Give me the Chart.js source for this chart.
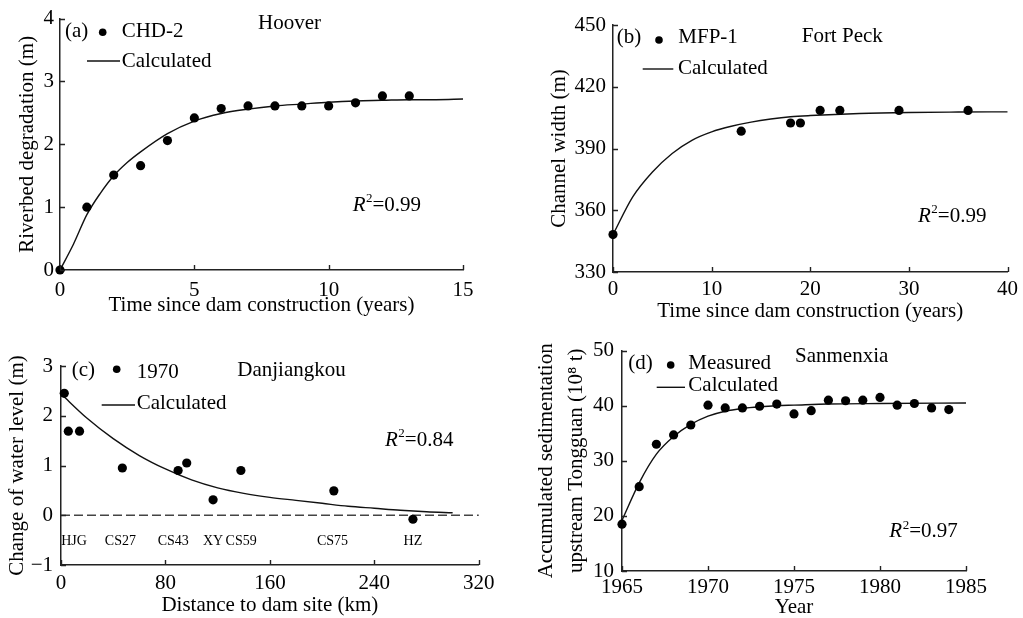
<!DOCTYPE html>
<html>
<head>
<meta charset="utf-8">
<script src="https://cdn.jsdelivr.net/npm/chart.js@4.4.1/dist/chart.umd.min.js"></script>
<style>
  html, body { margin: 0; padding: 0; background: #fff; overflow: hidden; }
  #wrap { position: relative; width: 1023px; height: 618px; }
  canvas { position: absolute; }
</style>
</head>
<body>
<div id="wrap">
  <canvas id="panelA" width="500" height="318" style="left:0px;top:0px"></canvas>
  <canvas id="panelB" width="513" height="330" style="left:510px;top:0px"></canvas>
  <canvas id="panelC" width="500" height="300" style="left:0px;top:318px"></canvas>
  <canvas id="panelD" width="513" height="300" style="left:510px;top:330px"></canvas>
</div>
<script>
// (a) Hoover - riverbed degradation
const hooverYears = [0, 1, 2, 3, 4, 5, 6, 7, 8, 9, 10, 11, 12, 13];
const hooverDeg = [0, 1.0, 1.51, 1.66, 2.06, 2.42, 2.57, 2.61, 2.61, 2.61, 2.61, 2.66, 2.77, 2.77];
const hooverCalcYears = [0, 0.5, 1, 1.5, 2, 2.5, 3, 4, 5, 6, 7, 8, 9, 10, 11, 12, 13, 14, 15];
const hooverCalc = [0, 0.41, 0.88, 1.22, 1.5, 1.71, 1.88, 2.17, 2.37, 2.49, 2.56, 2.61, 2.64, 2.67, 2.69, 2.7, 2.71, 2.71, 2.72];

// (b) Fort Peck - channel width
const peckYears = [0, 13, 18, 19, 21, 23, 29, 36];
const peckWidth = [348.2, 398.4, 402.4, 402.4, 408.5, 408.5, 408.5, 408.5];
const peckCalcYears = [0, 2, 4, 6, 8, 10, 12, 14, 16, 18, 20, 25, 30, 35, 40];
const peckCalc = [348.2, 366.5, 378.6, 387.6, 394, 398.1, 400.8, 402.8, 404.3, 405.4, 406, 407, 407.5, 407.7, 407.8];

// (c) Danjiangkou - change of water level, 1970
const danjKm = [2.5, 5.6, 14.2, 47, 89.7, 96.3, 116.5, 137.8, 209, 269.6];
const danjLevel = [2.45, 1.69, 1.69, 0.95, 0.9, 1.05, 0.31, 0.9, 0.49, -0.08];
const danjCalcKm = [0, 20, 40, 60, 80, 100, 120, 140, 160, 180, 200, 220, 240, 260, 280, 300];
const danjCalc = [2.44, 1.95, 1.54, 1.2, 0.93, 0.71, 0.55, 0.44, 0.36, 0.3, 0.24, 0.18, 0.14, 0.1, 0.07, 0.05];
const zeroKm = [0, 320];
const zeroLevel = [0, 0];
const stationNames = ['HJG', 'CS27', 'CS43', 'XY', 'CS59', 'CS75', 'HZ'];
const stationKm = [10, 45.5, 86, 116.5, 138, 208, 269.6];
const stationLevel = -0.53;

// (d) Sanmenxia - accumulated sedimentation upstream Tongguan
const sanYears = [1965, 1966, 1967, 1968, 1969, 1970, 1971, 1972, 1973, 1974, 1975, 1976, 1977, 1978, 1979, 1980, 1981, 1982, 1983, 1984];
const sanSed = [18.5, 25.3, 33, 34.7, 36.5, 40.1, 39.6, 39.6, 39.9, 40.3, 38.5, 39.1, 41.0, 40.9, 41.0, 41.5, 40.1, 40.4, 39.6, 39.3];
const sanCalcYears = [1965, 1966, 1967, 1968, 1969, 1970, 1971, 1972, 1973, 1974, 1975, 1977, 1980, 1985];
const sanCalc = [19.2, 26, 31.2, 34.4, 36.6, 38.1, 39, 39.5, 39.8, 40, 40.1, 40.3, 40.4, 40.5];

const FAMILY = '"Liberation Serif", "Times New Roman", serif';
const INK = '#000';
const AXIS = '#222';

function pairs(xs, ys) {
  return xs.map((x, i) => ({x: x, y: ys[i]}));
}

function drawR2(ctx, val, x, y) {
  ctx.font = 'italic 21px ' + FAMILY;
  ctx.fillText('R', x, y);
  let w = ctx.measureText('R').width;
  ctx.font = '13px ' + FAMILY;
  ctx.fillText('2', x + w + 0.5, y - 6);
  w += ctx.measureText('2').width + 0.5;
  ctx.font = '21px ' + FAMILY;
  ctx.fillText('=' + val, x + w, y);
}

// inward tick marks, legend, site names and R2 text
const decorPlugin = {
  id: 'decor',
  afterDraw(chart, args, o) {
    const ctx = chart.ctx;
    const {left, bottom} = chart.chartArea;
    const sx = chart.scales.x, sy = chart.scales.y;
    ctx.save();
    ctx.strokeStyle = AXIS;
    ctx.lineWidth = 1.4;
    ctx.beginPath();
    sx.ticks.forEach(t => {
      const px = Math.round(sx.getPixelForValue(t.value)) + 0.5;
      ctx.moveTo(px, bottom); ctx.lineTo(px, bottom - 5);
    });
    sy.ticks.forEach(t => {
      const py = Math.round(sy.getPixelForValue(t.value)) + 0.5;
      ctx.moveTo(left, py); ctx.lineTo(left + 5, py);
    });
    ctx.stroke();

    const ox = o.ox, oy = o.oy;
    ctx.fillStyle = INK;
    ctx.textBaseline = 'middle';
    ctx.textAlign = 'left';
    ctx.font = '21px ' + FAMILY;
    ctx.fillText(o.tag[0], o.tag[1] - ox, o.tag[2] - oy);
    ctx.fillText(o.name[0], o.name[1] - ox, o.name[2] - oy);
    ctx.fillText('Calculated', o.calc[0] - ox, o.calc[1] - oy);
    ctx.fillText(o.site[0], o.site[1] - ox, o.site[2] - oy);

    ctx.beginPath();
    ctx.arc(o.dot[0] - ox, o.dot[1] - oy, 3.8, 0, Math.PI * 2);
    ctx.fill();

    ctx.strokeStyle = '#111';
    ctx.lineWidth = 1.4;
    ctx.beginPath();
    ctx.moveTo(o.line[0] - ox, o.line[2] - oy);
    ctx.lineTo(o.line[1] - ox, o.line[2] - oy);
    ctx.stroke();

    drawR2(ctx, o.r2[0], o.r2[1] - ox, o.r2[2] - oy);

    if (o.stations) {
      ctx.font = '14px ' + FAMILY;
      ctx.textAlign = 'center';
      stationNames.forEach((s, i) => {
        ctx.fillText(s, sx.getPixelForValue(stationKm[i]), sy.getPixelForValue(stationLevel));
      });
    }
    ctx.restore();
  }
};

function axis(min, max, step, title, size, tickPad, titlePad, isX, fmt) {
  const a = {
    type: 'linear',
    min: min,
    max: max,
    ticks: {
      stepSize: step,
      autoSkip: false,
      maxRotation: 0,
      padding: tickPad,
      color: INK,
      font: {family: FAMILY, size: 21},
      callback: fmt || (v => String(v))
    },
    grid: {display: false, drawTicks: false},
    border: {display: true, color: AXIS, width: 1.5},
    title: {
      display: true,
      text: title,
      color: INK,
      font: {family: FAMILY, size: 21, lineHeight: 1.2},
      padding: isX ? {top: 0, bottom: titlePad} : {top: titlePad, bottom: 0}
    }
  };
  if (isX) a.afterFit = s => { s.height = size; };
  else a.afterFit = s => { s.width = size; };
  return a;
}

function panel(id, p) {
  const datasets = [
    {data: p.points, pointRadius: 4.6, pointHoverRadius: 4.6, backgroundColor: INK, borderWidth: 0, clip: false},
    {data: p.curve, showLine: true, pointRadius: 0, borderColor: '#111', borderWidth: 1.4,
     cubicInterpolationMode: 'monotone', clip: false}
  ];
  if (p.extra) datasets.push(p.extra);
  return new Chart(document.getElementById(id), {
    type: 'scatter',
    data: {datasets: datasets},
    options: {
      responsive: false,
      animation: false,
      devicePixelRatio: 1,
      layout: {padding: {top: p.top, right: p.right, left: 0, bottom: 0}},
      plugins: {legend: {display: false}, tooltip: {enabled: false}, decor: p.decor},
      scales: {x: p.x, y: p.y}
    },
    plugins: [decorPlugin]
  });
}

panel('panelA', {
  points: pairs(hooverYears, hooverDeg),
  curve: pairs(hooverCalcYears, hooverCalc),
  top: 15, right: 37,
  x: axis(0, 15, 5, 'Time since dam construction (years)', 48, 8, 0.4, true),
  y: axis(0, 4, 1, 'Riverbed degradation (m)', 60, 6, 15, false),
  decor: {ox: 0, oy: 0, tag: ['(a)', 65, 31.5], dot: [102.7, 32.3], name: ['CHD-2', 121.7, 31.5],
          line: [87, 120, 61], calc: [121.7, 61], site: ['Hoover', 258, 23.3], r2: ['0.99', 352.7, 205]}
});

panel('panelB', {
  points: pairs(peckYears, peckWidth),
  curve: pairs(peckCalcYears, peckCalc),
  top: 25, right: 14,
  x: axis(0, 40, 10, 'Time since dam construction (years)', 58, 5, 6.4, true),
  y: axis(330, 450, 30, 'Channel width (m)', 103, 7, 36.4, false),
  decor: {ox: 510, oy: 0, tag: ['(b)', 616.7, 37.3], dot: [659, 40], name: ['MFP-1', 678.3, 37.3],
          line: [642.7, 673.3, 69], calc: [678, 68.3], site: ['Fort Peck', 801.7, 36], r2: ['0.99', 918, 216]}
});

panel('panelC', {
  points: pairs(danjKm, danjLevel),
  curve: pairs(danjCalcKm, danjCalc),
  extra: {data: pairs(zeroKm, zeroLevel), showLine: true, pointRadius: 0, borderColor: '#444',
          borderWidth: 1.5, borderDash: [9, 4], clip: false},
  top: 48, right: 18,
  x: axis(0, 320, 80, 'Distance to dam site (km)', 53, 5.5, 0, true),
  y: axis(-1, 3, 1, 'Change of water level (m)', 61, 8, 4.4, false, v => (v < 0 ? '\u2212' + Math.abs(v) : String(v))),
  decor: {ox: 0, oy: 318, tag: ['(c)', 71.7, 370], dot: [116.7, 369.3], name: ['1970', 136.7, 372.7],
          line: [101.7, 135, 405], calc: [136.7, 403.3], site: ['Danjiangkou', 237.3, 370],
          r2: ['0.84', 385, 440], stations: true}
});

const sanTitle = ['Accumulated sedimentation', 'upstream Tongguan (10\u2078 t)'];
const yD = axis(10, 50, 10, sanTitle, 112, 8, 21.7, false);
yD.title.font.lineHeight = 1.43;
panel('panelD', {
  points: pairs(sanYears, sanSed),
  curve: pairs(sanCalcYears, sanCalc),
  top: 19, right: 57,
  x: axis(1965, 1985, 5, 'Year', 59, 3.7, 9.9, true),
  y: yD,
  decor: {ox: 510, oy: 330, tag: ['(d)', 628.3, 363.3], dot: [670.7, 365], name: ['Measured', 688.3, 363.3],
          line: [656.7, 685, 387.3], calc: [688.3, 385], site: ['Sanmenxia', 795, 356], r2: ['0.97', 889.3, 531.7]}
});
</script>
</body>
</html>
